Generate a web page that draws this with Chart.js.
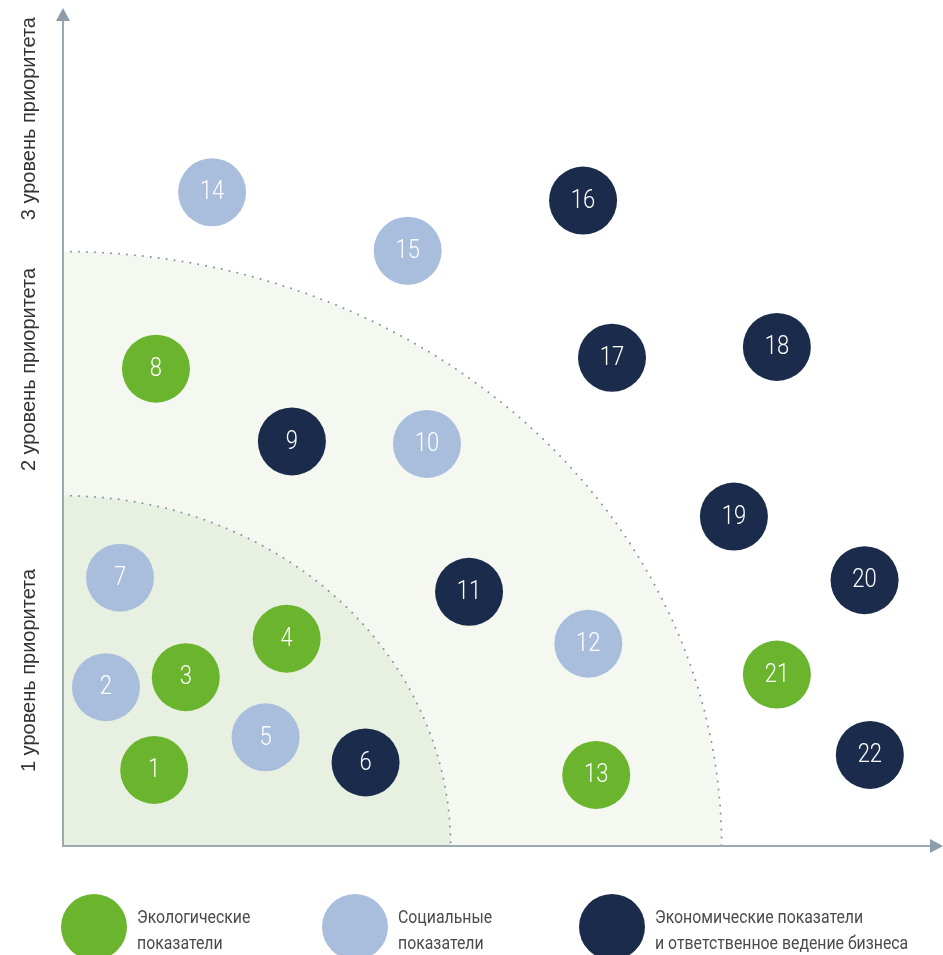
<!DOCTYPE html>
<html>
<head>
<meta charset="utf-8">
<script src="https://cdn.jsdelivr.net/npm/chart.js@4.4.1/dist/chart.umd.min.js"></script>
<style>
  body { margin: 0; background: #fff; }
  #wrap { width: 943px; height: 955px; position: relative; }
</style>
</head>
<body>
<div id="wrap"><canvas id="myChart"></canvas></div>
<script>
// indicator numbers and positions (x: impact, y: priority), by group
const ecoIds = [1, 3, 4, 8, 13, 21];
const ecoX = [10.4, 14.0, 25.5, 10.6, 60.8, 81.4];
const ecoY = [9.1, 20.2, 24.8, 57.1, 8.5, 20.5];

const socIds = [2, 5, 7, 10, 12, 14, 15];
const socX = [4.9, 23.1, 6.5, 41.5, 59.9, 17.0, 39.3];
const socY = [19.0, 13.0, 32.1, 48.1, 24.2, 78.2, 71.2];

const econIds = [6, 9, 11, 16, 17, 18, 19, 20, 22];
const econX = [34.5, 26.1, 46.3, 59.3, 62.6, 81.4, 76.5, 91.4, 92.0];
const econY = [10.0, 48.4, 30.4, 77.2, 58.4, 59.7, 39.4, 31.8, 10.9];

const groupNames = [
  ["Экологические", "показатели"],
  ["Социальные", "показатели"],
  ["Экономические показатели", "и ответственное ведение бизнеса"],
];
const groupColors = ["#6ab42e", "#a9bddc", "#1b2b4b"];

// priority zone boundaries (radii along x and y)
const zoneRx = [44.2, 75.1];
const zoneRy = [41.9, 71.1];
const levelLabels = ["1 уровень приоритета", "2 уровень приоритета", "3 уровень приоритета"];
const levelLabelY = [21, 57, 87];

function makeSet(ids, xs, ys, i) {
  return {
    label: groupNames[i],
    data: ids.map((id, k) => ({ x: xs[k], y: ys[k], r: 34, id: id })),
    backgroundColor: groupColors[i],
    borderWidth: 0,
    hoverRadius: 0,
    clip: false,
  };
}

// text squeezed horizontally to imitate the narrow font of the original
function narrowText(ctx, text, x, y, sx) {
  ctx.save();
  ctx.translate(x, y);
  ctx.scale(sx, 1);
  ctx.fillText(text, 0, 0);
  ctx.restore();
}

const zonesPlugin = {
  id: "zones",
  beforeDatasetsDraw(chart) {
    const ctx = chart.ctx;
    const xs = chart.scales.x, ys = chart.scales.y;
    const a = chart.chartArea;
    const ox = xs.getPixelForValue(0), oy = ys.getPixelForValue(0);
    const fills = ["#e8f0e1", "#f4f8f0"];
    ctx.save();
    for (let i = zoneRx.length - 1; i >= 0; i--) {
      const rx = xs.getPixelForValue(zoneRx[i]) - ox;
      const ry = oy - ys.getPixelForValue(zoneRy[i]);
      ctx.beginPath();
      ctx.moveTo(ox, oy);
      ctx.ellipse(ox, oy, rx, ry, 0, -Math.PI / 2, 0);
      ctx.closePath();
      ctx.fillStyle = fills[i];
      ctx.fill();
    }
    ctx.strokeStyle = "#7f91a1";
    ctx.lineWidth = 2;
    ctx.lineCap = "round";
    ctx.setLineDash([0, 8]);
    for (let i = 0; i < zoneRx.length; i++) {
      const rx = xs.getPixelForValue(zoneRx[i]) - ox;
      const ry = oy - ys.getPixelForValue(zoneRy[i]);
      ctx.beginPath();
      ctx.ellipse(ox, oy, rx, ry, 0, -Math.PI / 2, 0);
      ctx.stroke();
    }
    ctx.setLineDash([]);
    // axes with arrows
    ctx.strokeStyle = "#9aa9b4";
    ctx.fillStyle = "#8d9dab";
    ctx.lineWidth = 2;
    ctx.lineCap = "butt";
    ctx.beginPath();
    ctx.moveTo(ox, a.top + 8);
    ctx.lineTo(ox, oy);
    ctx.lineTo(a.right - 8, oy);
    ctx.stroke();
    ctx.beginPath();
    ctx.moveTo(ox, a.top - 2);
    ctx.lineTo(ox - 7, a.top + 11);
    ctx.lineTo(ox + 7, a.top + 11);
    ctx.closePath();
    ctx.fill();
    ctx.beginPath();
    ctx.moveTo(a.right + 3, oy);
    ctx.lineTo(a.right - 10, oy - 7);
    ctx.lineTo(a.right - 10, oy + 7);
    ctx.closePath();
    ctx.fill();
    ctx.restore();
  },
  afterDatasetsDraw(chart) {
    const ctx = chart.ctx;
    ctx.save();
    ctx.fillStyle = "#ffffff";
    ctx.font = "300 25px Roboto, sans-serif";
    ctx.textAlign = "center";
    ctx.textBaseline = "middle";
    chart.data.datasets.forEach((ds, i) => {
      chart.getDatasetMeta(i).data.forEach((el, k) => {
        narrowText(ctx, String(ds.data[k].id), el.x, el.y + 1, 0.88);
      });
    });
    ctx.restore();
  },
  afterDraw(chart) {
    const ctx = chart.ctx;
    const ys = chart.scales.y;
    ctx.save();
    // level labels on the vertical axis
    ctx.fillStyle = "#333333";
    ctx.font = "20px 'Liberation Sans', sans-serif";
    ctx.textAlign = "center";
    ctx.textBaseline = "middle";
    levelLabels.forEach((t, i) => {
      ctx.save();
      ctx.translate(29, ys.getPixelForValue(levelLabelY[i]));
      ctx.rotate(-Math.PI / 2);
      ctx.fillText(t, 0, 0);
      ctx.restore();
    });
    // legend
    const lx = [94, 355, 612];
    const ly = 927;
    ctx.textAlign = "left";
    ctx.textBaseline = "middle";
    ctx.font = "18px Roboto, sans-serif";
    chart.data.datasets.forEach((ds, i) => {
      ctx.beginPath();
      ctx.arc(lx[i], ly, 33, 0, Math.PI * 2);
      ctx.fillStyle = ds.backgroundColor;
      ctx.fill();
      ctx.fillStyle = "#4a4a4a";
      ds.label.forEach((line, j) => {
        narrowText(ctx, line, lx[i] + 43, ly - 9 + j * 26, 0.88);
      });
    });
    ctx.restore();
  },
};

const config = {
  type: "bubble",
  data: {
    datasets: [
      makeSet(ecoIds, ecoX, ecoY, 0),
      makeSet(socIds, socX, socY, 1),
      makeSet(econIds, econX, econY, 2),
    ],
  },
  options: {
    responsive: true,
    maintainAspectRatio: false,
    animation: false,
    events: [],
    layout: { autoPadding: false, padding: { left: 63, top: 10, right: 3, bottom: 109 } },
    scales: {
      x: { type: "linear", min: 0, max: 100, display: false },
      y: { type: "linear", min: 0, max: 100, display: false },
    },
    plugins: {
      legend: { display: false },
      tooltip: { enabled: false },
    },
  },
  plugins: [zonesPlugin],
};

var myChart = new Chart(document.getElementById("myChart"), config);
</script>
</body>
</html>
